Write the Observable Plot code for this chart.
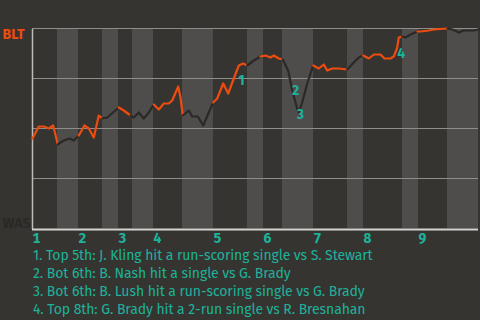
<!DOCTYPE html>
<html><head><meta charset="utf-8">
<script src="https://cdn.jsdelivr.net/npm/d3@7"></script>
<script src="https://cdn.jsdelivr.net/npm/@observablehq/plot@0.6"></script>
<style>
html,body{margin:0;padding:0;background:#363430;}
#chart{width:480px;height:320px;position:relative;overflow:hidden;background:#363430;}
#chart svg{display:block;}
.notes{font-family:"Fira Sans","Open Sans",sans-serif;font-size:14px;letter-spacing:-0.08px;color:#1db29a;margin:0 0 0 33px;line-height:18px;white-space:nowrap;}
</style></head>
<body><div id="chart"></div>
<script>
// half-inning start positions (play index); even = top (BLT bats), odd = bottom (WAS bats)
const halfStarts = [0, 8.33, 15.33, 23.33, 28.67, 33.33, 40.33, 50, 60.33, 71.67, 77, 83.33, 93.67, 105, 110.33, 123.33, 128.67, 138.33, 148.67];
const innings = ["1","2","3","4","5","6","7","8","9"];
// win probability for BLT by play
const playX = [0,2.1,3.77,5.43,6.9,8.43,9.33,10.43,12.43,13.77,15.43,17.33,18.77,20.43,22.1,23.23,24.9,28.77,30.43,32.67,33.77,35.43,37.1,38.77,40.43,42.1,43.77,45.43,46.57,48.57,49.33,50.1,52.1,53.23,55.1,56.9,58.77,60.23,61.57,63.57,65.23,67.1,68.77,70.23,71.57,73.77,76,77.67,79.33,80.43,82.1,83.43,85.23,86.57,88.23,88.77,89.9,91.57,93.57,95.43,97.1,98.23,99.9,102.1,104.9,107.1,108.77,110.23,112.1,113.77,116,117.33,119.33,120.43,121.5,122.1,123.23,124.33,126,128.33,129.33,132.1,133.77,138.33,140,142.17,143.77,147.1,148.67];
const winProb = [0.45,0.51,0.51,0.5,0.515,0.42,0.43,0.44,0.45,0.44,0.465,0.515,0.5,0.455,0.565,0.55,0.555,0.605,0.59,0.565,0.555,0.58,0.55,0.58,0.62,0.595,0.625,0.625,0.64,0.71,0.655,0.565,0.59,0.56,0.56,0.515,0.58,0.63,0.65,0.725,0.675,0.75,0.815,0.825,0.815,0.84,0.86,0.865,0.855,0.865,0.85,0.845,0.79,0.69,0.6,0.58,0.63,0.725,0.815,0.8,0.82,0.79,0.8,0.8,0.795,0.83,0.855,0.865,0.85,0.87,0.87,0.85,0.85,0.86,0.9,0.955,0.96,0.955,0.97,0.985,0.985,0.99,0.995,1.0,0.995,0.98,0.99,0.99,0.995];
// annotation markers
const markLabel = ["1","2","3","4"];
const markX = [69.7, 87.7, 89.3, 122.9];
const markP = [0.74, 0.69, 0.57, 0.873];
const notes = [
  "1. Top 5th: J. Kling hit a run-scoring single vs S. Stewart",
  "2. Bot 6th: B. Nash hit a single vs G. Brady",
  "3. Bot 6th: B. Lush hit a run-scoring single vs G. Brady",
  "4. Top 8th: G. Brady hit a 2-run single vs R. Bresnahan"
];

const ORANGE = "#ec4c10", DARK = "#2a2927", TEAL = "#1db29a", BAND = "#4f4d4b";

// build half-inning line segments
const pts = playX.map((x, i) => ({x, p: winProb[i]}));
const halfOf = x => { for (let h = 0; h < halfStarts.length - 1; h++) if (x <= halfStarts[h + 1] + 0.2) return h; return halfStarts.length - 2; };
const segs = [];
let prev = null;
for (let h = 0; h < halfStarts.length - 1; h++) {
  const inH = pts.filter(d => halfOf(d.x) === h);
  if (!inH.length) continue;
  if (prev) segs.push({...prev, half: h});
  inH.forEach(d => segs.push({...d, half: h}));
  prev = inH[inH.length - 1];
}
const bands = [];
for (let h = 1; h < halfStarts.length - 1; h += 2) bands.push({x1: halfStarts[h], x2: halfStarts[h + 1]});
const topStarts = innings.map((d, i) => halfStarts[2 * i]);
const marks = markLabel.map((t, i) => ({t, x: markX[i], p: markP[i]}));

const chart = Plot.plot({
  width: 480, height: 247,
  marginLeft: 32, marginRight: 2, marginTop: 28, marginBottom: 19,
  style: {background: "transparent", fontFamily: "'Fira Sans','Open Sans',sans-serif"},
  x: {domain: [0, 148.67]},
  y: {domain: [0, 1], axis: null},
  marks: [
    Plot.rect(bands, {x1: "x1", x2: "x2", y1: 0, y2: 1, fill: BAND}),
    Plot.ruleY([0.25, 0.5, 0.75, 1], {stroke: "#8f8d8a", strokeWidth: 1.2}),
    Plot.ruleX([0], {y1: 0, y2: 1, stroke: "#bdbbb8", strokeWidth: 1.5, dy: 1}),
    Plot.ruleY([0], {stroke: "#d6d4d0", strokeWidth: 2, dy: 1}),
    Plot.line(segs, {x: "x", y: "p", z: "half", stroke: d => d.half % 2 === 0 ? ORANGE : DARK, strokeWidth: 2.2, curve: "linear"}),
    Plot.text(marks, {x: "x", y: "p", text: "t", fill: TEAL, fontSize: 14, fontWeight: "bold"}),
    Plot.axisX({ticks: topStarts, tickFormat: d => innings[topStarts.indexOf(d)], tickSize: 0, tickPadding: 5, textAnchor: "start", dx: 0, fill: TEAL, fontSize: 14, fontWeight: "bold", label: null}),
    Plot.text(["BLT"], {frameAnchor: "top-left", dx: -30, dy: 1, textAnchor: "start", fill: ORANGE, fontSize: 14, fontWeight: "bold"}),
    Plot.text(["WAS"], {frameAnchor: "bottom-left", dx: -30, dy: -1, textAnchor: "start", fill: DARK, fontSize: 14, fontWeight: "bold"})
  ]
});
const root = document.getElementById("chart");
root.appendChild(chart);
const div = document.createElement("div");
div.className = "notes";
div.innerHTML = notes.map(n => `<div>${n}</div>`).join("");
root.appendChild(div);
</script>
</body></html>
